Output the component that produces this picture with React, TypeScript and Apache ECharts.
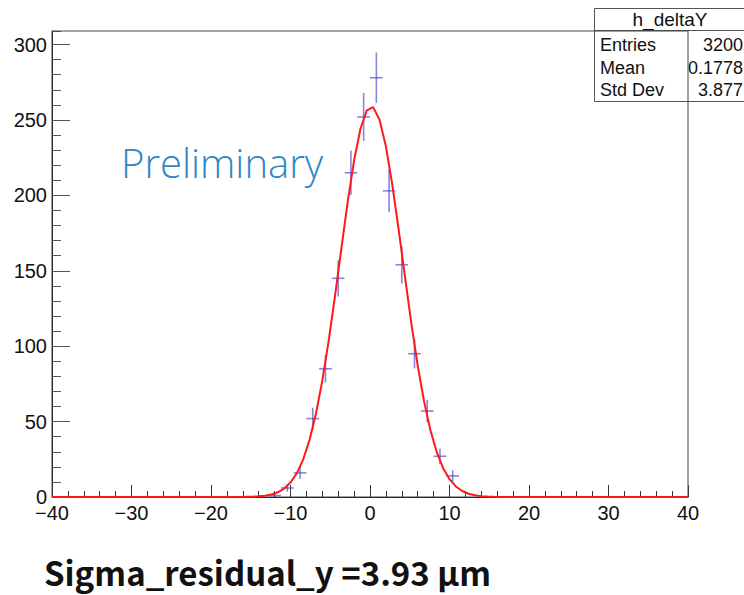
import React, { useEffect, useRef } from "react";
import * as echarts from "echarts";

// ---- data ----
const binCenters = [-12.0, -10.4, -8.8, -7.2, -5.6, -4.0, -2.4, -0.8, 0.8, 2.4, 4.0, 5.6, 7.2, 8.8, 10.4];
const counts = [1, 6, 16, 52, 85, 145, 215, 252, 278, 203, 154, 95, 57, 27, 14];
const errors = [1.0, 2.45, 4.0, 7.2, 9.2, 12.0, 14.7, 15.9, 16.7, 14.2, 12.4, 9.7, 7.5, 5.2, 3.7];
const HALF_BIN = 0.8;

const fitX = [-40, -15.6, -14.8, -14.0, -13.2, -12.4, -11.6, -10.8, -10.0, -9.2, -8.4, -7.6, -6.8, -6.0, -5.2, -4.4, -3.6, -2.8, -2.0, -1.2, -0.4, 0.4, 1.2, 2.0, 2.8, 3.6, 4.4, 5.2, 6.0, 6.8, 7.6, 8.4, 9.2, 10.0, 10.8, 11.6, 12.4, 13.2, 14.0, 14.8, 15.6, 16.4, 40];
const fitY = [0, 0.09, 0.2, 0.43, 0.87, 1.69, 3.14, 5.6, 9.6, 15.8, 25.0, 37.9, 55.2, 77.2, 103.5, 133.4, 164.9, 195.8, 223.2, 244.2, 256.4, 258.5, 250.2, 232.5, 207.3, 177.5, 145.9, 115.1, 87.2, 63.4, 44.3, 29.7, 19.1, 11.8, 7.0, 3.97, 2.17, 1.14, 0.57, 0.28, 0.13, 0.06, 0];

const xTicks = { min: -40, max: 40, interval: 10 };
const yTicks = { min: 0, max: 309, interval: 50, minorInterval: 10 };

const statsTitle = "h_deltaY";
const statsLabels = ["Entries", "Mean", "Std Dev"];
const statsValues = ["3200", "0.1778", "3.877"];
const watermark = "Preliminary";
const caption = "Sigma_residual_y =3.93 μm";

const AXIS_FONT = "'Liberation Sans', Arial, sans-serif";

export default function App() {
  const ref = useRef<HTMLDivElement>(null);
  useEffect(() => {
    if (!ref.current) return;
    const chart = echarts.init(ref.current, undefined, { renderer: "svg" });
    const pointData = binCenters.map((x, i) => [x, counts[i], errors[i]]);
    const fitData = fitX.map((x, i) => [x, fitY[i]]);
    const minus = (v: number) => String(v).replace("-", "\u2212");

    const statsRows: any[] = [];
    statsLabels.forEach((lab, i) => {
      statsRows.push({
        type: "text", z: 1, x: 600, y: 45 + i * 22.5,
        style: { text: lab, fontSize: 18, fontFamily: AXIS_FONT, fill: "#111", verticalAlign: "middle" },
      });
      statsRows.push({
        type: "text", z: 1, x: 743, y: 45 + i * 22.5,
        style: {
          text: statsValues[i], fontSize: 18, fontFamily: AXIS_FONT, fill: "#111",
          align: "right", verticalAlign: "middle",
        },
      });
    });

    chart.setOption({
      animation: false,
      backgroundColor: "#fff",
      grid: {
        left: 52, right: 56, top: 31, bottom: 98,
        show: true, borderColor: "#444", borderWidth: 1, backgroundColor: "transparent", z: 3,
      },
      xAxis: {
        type: "value",
        min: xTicks.min, max: xTicks.max, interval: xTicks.interval,
        axisLine: { show: true, onZero: false, lineStyle: { color: "#111", width: 1 } },
        axisTick: { show: true, inside: true, length: 12, lineStyle: { color: "#333" } },
        minorTick: { show: true, splitNumber: 5, length: 6, lineStyle: { color: "#333" } },
        splitLine: { show: false },
        axisLabel: {
          formatter: (v: number) => minus(v), fontSize: 20, color: "#111",
          fontFamily: AXIS_FONT, margin: 6,
        },
      },
      yAxis: [
        {
          type: "value",
          min: yTicks.min, max: yTicks.max, interval: yTicks.interval,
          axisLine: { show: true, onZero: false, lineStyle: { color: "#111", width: 1 } },
          axisTick: { show: true, inside: true, length: 18, lineStyle: { color: "#555" } },
          splitLine: { show: false },
          axisLabel: {
            formatter: (v: number) => (v % yTicks.interval === 0 ? String(v) : ""),
            fontSize: 20, color: "#111", fontFamily: AXIS_FONT, margin: 5,
            showMaxLabel: false,
          },
        },
        {
          type: "value", position: "left",
          min: yTicks.min, max: yTicks.max, interval: yTicks.minorInterval,
          axisLine: { show: false, onZero: false },
          axisTick: { show: true, inside: true, length: 9, lineStyle: { color: "#555" } },
          axisLabel: { show: false },
          splitLine: { show: false },
        },
      ],
      series: [
        {
          type: "custom",
          data: pointData,
          z: 4,
          renderItem: (params: any, api: any) => {
            const x = api.value(0), y = api.value(1), e = api.value(2);
            const l = api.coord([x - HALF_BIN, y]);
            const r = api.coord([x + HALF_BIN, y]);
            const t = api.coord([x, y + e]);
            const b = api.coord([x, y - e]);
            const st = { stroke: "rgba(60,60,200,0.62)", lineWidth: 1.6 };
            return {
              type: "group",
              children: [
                { type: "line", shape: { x1: l[0], y1: l[1], x2: r[0], y2: r[1] }, style: st },
                { type: "line", shape: { x1: t[0], y1: t[1], x2: b[0], y2: b[1] }, style: st },
              ],
            };
          },
        },
        {
          type: "line",
          data: fitData,
          showSymbol: false,
          symbol: "none",
          z: 5,
          lineStyle: { color: "#ff1a1a", width: 2 },
        },
      ],
      graphic: [
        {
          type: "rect", z: 1,
          shape: { x: 594.5, y: 8.5, width: 160, height: 93 },
          style: { fill: "#fff", stroke: "#555", lineWidth: 1 },
        },
        {
          type: "line", z: 1,
          shape: { x1: 594.5, y1: 30.5, x2: 744, y2: 30.5 },
          style: { stroke: "#555", lineWidth: 1 },
        },
        {
          type: "text", z: 1, x: 670, y: 19.5,
          style: {
            text: statsTitle, fontSize: 19, fontFamily: AXIS_FONT, fill: "#111",
            align: "center", verticalAlign: "middle",
          },
        },
        ...statsRows,
        {
          type: "text", z: 6, x: 121, y: 162,
          style: {
            text: watermark, fontSize: 40, fontFamily: "'Open Sans', 'Noto Sans', sans-serif",
            fontWeight: 300, fill: "#2E86C8", verticalAlign: "middle",
          },
        },
        {
          type: "text", z: 6, x: 44, y: 572,
          style: {
            text: caption, fontSize: 33, fontFamily: "'Noto Sans CJK SC', 'Noto Sans', sans-serif",
            fontWeight: "bold", fill: "#111", verticalAlign: "middle",
          },
        },
      ],
    });
    return () => chart.dispose();
  }, []);
  return <div ref={ref} style={{ width: 744, height: 595, position: "absolute", left: 0, top: 0 }} />;
}
